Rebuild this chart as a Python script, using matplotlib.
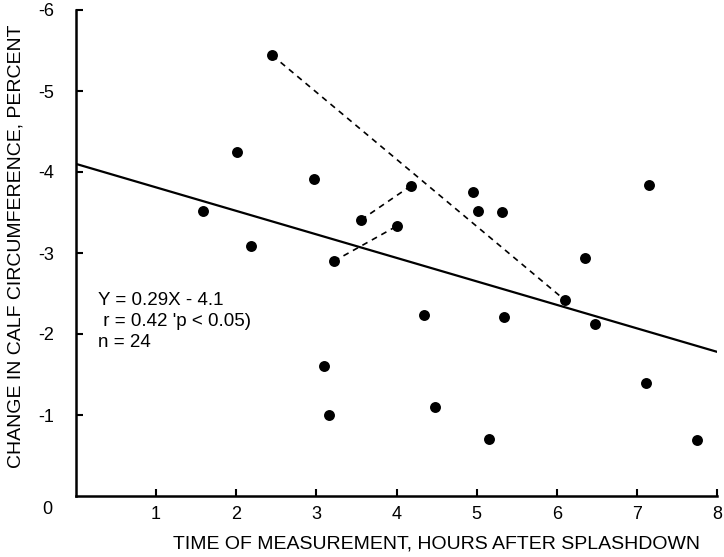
import matplotlib
matplotlib.use("Agg")
import matplotlib.pyplot as plt

plt.rcParams['font.family'] = ['Liberation Sans', 'DejaVu Sans']

# Data points (hours after splashdown, change in calf circumference %)
hours = [2.45, 2.01, 2.97, 1.59, 2.18, 3.22, 3.56, 4.18, 4.00, 4.96, 5.02, 5.32,
         7.15, 6.35, 6.10, 6.48, 4.34, 5.34, 7.12, 4.48, 5.16, 7.75, 3.10, 3.16]
change = [-5.44, -4.25, -3.91, -3.52, -3.09, -2.90, -3.41, -3.83, -3.33, -3.75, -3.52, -3.51,
          -3.84, -2.94, -2.42, -2.12, -2.23, -2.21, -1.39, -1.10, -0.70, -0.69, -1.60, -1.00]

# Dashed connectors (same subjects measured twice)
pairs = [((2.45, -5.44), (6.10, -2.42)),
         ((3.22, -2.90), (4.00, -3.33)),
         ((3.56, -3.41), (4.18, -3.83))]

# Regression
slope, intercept = 0.29, -4.1
fit_x = [0, 8]

xticks = [1, 2, 3, 4, 5, 6, 7, 8]
yticks = [-1, -2, -3, -4, -5, -6]
stats_lines = ["Y = 0.29X - 4.1", " r = 0.42 'p < 0.05)", "n = 24"]

fig = plt.figure(figsize=(7.24, 5.57), dpi=100)
ax = fig.add_axes([76/724, 1 - 496/557, (717-76)/724, (496-10)/557])

for (a, b) in pairs:
    ax.plot([a[0], b[0]], [a[1], b[1]], color='black', lw=1.2,
            linestyle=(0, (3.5, 3)), zorder=2)

ax.plot(fit_x, [slope*x + intercept for x in fit_x], color='black', lw=1.6, zorder=2)
ax.scatter(hours, change, s=62, color='black', zorder=3, linewidths=0)

ax.set_xlim(0, 8)
ax.set_ylim(0, -6)
ax.spines['top'].set_visible(False)
ax.spines['right'].set_visible(False)
ax.spines['left'].set_linewidth(1.8)
ax.spines['bottom'].set_linewidth(1.8)

ax.set_xticks(xticks)
ax.set_xticklabels([str(t) for t in xticks], fontsize=13)
ax.set_yticks(yticks)
ax.set_yticklabels([str(t) for t in yticks], fontsize=13)
ax.tick_params(axis='x', direction='in', length=5, width=1.5, pad=7)
ax.tick_params(axis='y', direction='in', length=5, width=1.5, pad=16)

ax.text(-0.36, 0.17, "0", fontsize=13, ha='center', va='center', clip_on=False)

for i, line in enumerate(stats_lines):
    ax.text(0.28, -2.41 + i*0.26, line, fontsize=13.5, ha='left', va='center')

ax.set_xlabel("TIME OF MEASUREMENT, HOURS AFTER SPLASHDOWN", fontsize=14)
ax.set_ylabel("CHANGE IN CALF CIRCUMFERENCE, PERCENT", fontsize=14)
ax.yaxis.set_label_coords(-0.081, 0.514)
ax.xaxis.set_label_coords(0.562, -0.082)

fig.savefig("out.png", dpi=100)
